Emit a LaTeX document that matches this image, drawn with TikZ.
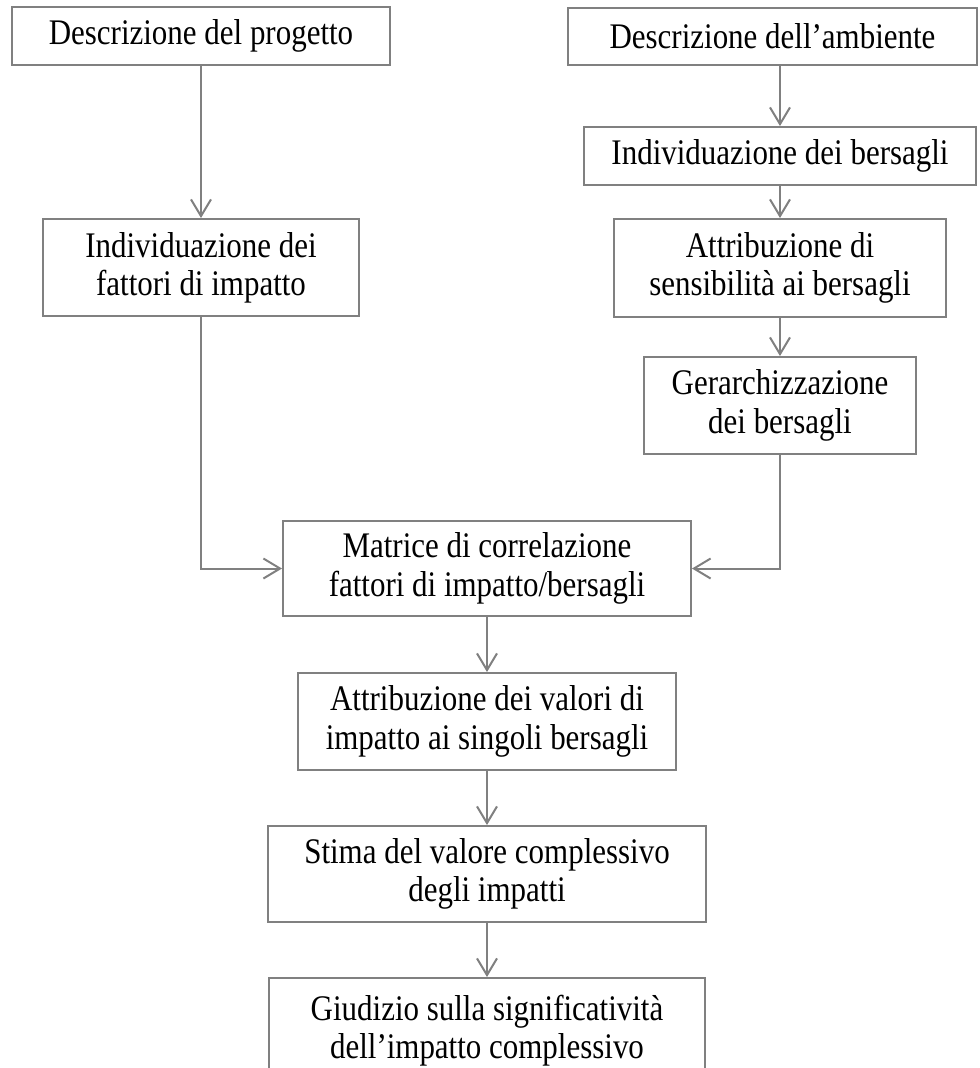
\documentclass[tikz,border=0pt]{standalone}
\usepackage{fontspec}
\setmainfont[FakeStretch=0.86]{Liberation Serif}
\usepackage{tikz}
\usetikzlibrary{arrows.meta, positioning}
\definecolor{LineGray}{HTML}{808080}

\begin{document}
\begin{tikzpicture}[
		x=0.3pt, y=-0.3pt,
		block/.style={draw=LineGray, line width=0.6pt, fill=white,
			inner sep=0pt, align=center,
			font=\fontsize{10.8pt}{11.5pt}\selectfont},
		arr/.style={-{Straight Barb[length=5pt, width=6pt]}, LineGray, line width=0.6pt},
		]
		\useasboundingbox (0,0) rectangle (979,1068);
		% ── Left column (project) ───────────────────────────────────────────────────
		\node[block, minimum width=113.4pt, minimum height=17.4pt] at (201,36) (prog)
		{Descrizione del progetto};
		\node[block, minimum width=95.1pt, minimum height=29.1pt, below=45.6pt of prog] (fattori)
		{Individuazione dei\\fattori di impatto};
		% ── Right column (environment) ──────────────────────────────────────────────
		\node[block, minimum width=122.7pt, minimum height=17.1pt] at (772.5,36.5) (amb)
		{Descrizione dell’ambiente};
		\node[block, minimum width=117.6pt, minimum height=17.4pt] at (780,156) (indiv)
		{Individuazione dei bersagli};
		\node[block, minimum width=99.6pt, minimum height=29.4pt, below=9.6pt of indiv] (attrib)
		{Attribuzione di\\sensibilità ai bersagli};
		\node[block, minimum width=81.6pt, minimum height=29.1pt, below=11.4pt of attrib] (gerarch)
		{Gerarchizzazione\\dei bersagli};
		% ── Central flow ────────────────────────────────────────────────────────────
		\node[block, minimum width=122.4pt, minimum height=28.5pt] at (487,568.5) (matrice)
		{Matrice di correlazione\\fattori di impatto/bersagli};
		\node[block, minimum width=113.4pt, minimum height=29.1pt, below=16.5pt of matrice] (valori)
		{Attribuzione dei valori di\\impatto ai singoli bersagli};
		\node[block, minimum width=131.4pt, minimum height=28.8pt, below=16.2pt of valori] (stima)
		{Stima del valore complessivo\\degli impatti};
		\node[block, minimum width=131.1pt, minimum height=31.5pt, below=16.2pt of stima] (giudizio)
		{Giudizio sulla significatività\\dell’impatto complessivo};
		% ── Arrows ──────────────────────────────────────────────────────────────────
		\draw[arr] (prog) -- (fattori);
		\draw[arr] (amb.south -| indiv) -- (indiv);
		\foreach \x/\y in {indiv/attrib, attrib/gerarch,
			matrice/valori, valori/stima, stima/giudizio}
		\draw[arr] (\x) -- (\y);
		% Both columns join the correlation matrix
		\draw[arr] (fattori) |- (matrice);
		\draw[arr] (gerarch) |- (matrice);
	\end{tikzpicture}
\end{document}
